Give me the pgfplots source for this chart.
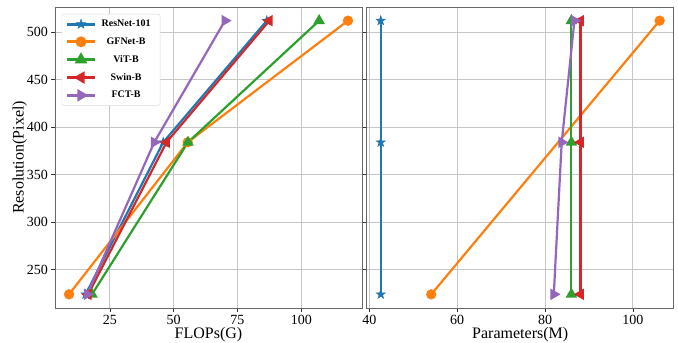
\documentclass[border=0pt]{standalone}
\usepackage{pgfplots}
\pgfplotsset{compat=1.18}
\usepackage{fontspec}
\setmainfont{Liberation Serif}
\definecolor{c1}{HTML}{1F77B4}
\definecolor{c2}{HTML}{FF7F0E}
\definecolor{c3}{HTML}{2CA02C}
\definecolor{c4}{HTML}{D62728}
\definecolor{c5}{HTML}{9467BD}
\pgfdeclareplotmark{fstar}{%
  \pgfpathmoveto{\pgfpointpolar{90}{1.3\pgfplotmarksize}}%
  \pgfpathlineto{\pgfpointpolar{126}{0.5\pgfplotmarksize}}%
  \pgfpathlineto{\pgfpointpolar{162}{1.3\pgfplotmarksize}}%
  \pgfpathlineto{\pgfpointpolar{198}{0.5\pgfplotmarksize}}%
  \pgfpathlineto{\pgfpointpolar{234}{1.3\pgfplotmarksize}}%
  \pgfpathlineto{\pgfpointpolar{270}{0.5\pgfplotmarksize}}%
  \pgfpathlineto{\pgfpointpolar{306}{1.3\pgfplotmarksize}}%
  \pgfpathlineto{\pgfpointpolar{342}{0.5\pgfplotmarksize}}%
  \pgfpathlineto{\pgfpointpolar{18}{1.3\pgfplotmarksize}}%
  \pgfpathlineto{\pgfpointpolar{54}{0.5\pgfplotmarksize}}%
  \pgfpathclose\pgfusepathqfillstroke}
\pgfplotsset{
  every axis/.style={
    scale only axis, width=307pt, height=301pt,
    grid=major, grid style={gray!45, line width=0.8pt},
    axis line style={gray!80!black, line width=0.8pt},
    tick align=outside, major tick length=3.5pt,
    tick style={black!80, line width=0.7pt},
    xtick pos=bottom, ytick pos=left,
    ymin=209.6, ymax=526.4,
    ytick={250,300,350,400,450,500},
    tick label style={font=\fontsize{14}{16}\selectfont},
    label style={font=\fontsize{16}{18}\selectfont},
    /pgf/number format/assume math mode=true,
    every axis plot/.append style={line width=2.2pt},
  },
  s1/.style={c1, mark=fstar, mark size=3.8pt, mark options={solid, line width=0.5pt}},
  s2/.style={c2, mark=*, mark size=4pt, mark options={solid}},
  s3/.style={c3, mark=triangle*, mark size=4.5pt, mark options={solid}},
  s4/.style={c4, mark=triangle*, mark size=4.5pt, mark options={solid, rotate=90}},
  s5/.style={c5, mark=triangle*, mark size=4.5pt, mark options={solid, rotate=-90}},
}
\begin{document}
\begin{tikzpicture}[x=1pt,y=1pt]
\useasboundingbox (0,0) rectangle (678,343);
\begin{axis}[at={(55pt,35pt)}, anchor=south west,
  xmin=3.5, xmax=123.8, xtick={25,50,75,100},
  xlabel={FLOPs(G)}, ylabel={Resolution(Pixel)},
  xlabel style={yshift=4pt}, ylabel style={yshift=-7pt},
  legend style={at={(0.022,0.977)}, anchor=north west, draw=gray!30, rounded corners=2pt,
    font=\bfseries\fontsize{10}{11}\selectfont, row sep=5.5pt, inner sep=4pt,
    cells={anchor=center, align=center, text width=56pt}},
  legend image code/.code={\draw[mark repeat=2,mark phase=2,line width=2.8pt,#1] plot coordinates {(0cm,0cm) (0.48cm,0cm) (0.96cm,0cm)};},
  legend cell align=center,
]
\addplot[s1] coordinates {(15.5,224) (45.9,384) (86.5,512)};
\addplot[s2] coordinates {(9.0,224) (55.5,384) (118.3,512)};
\addplot[s3] coordinates {(18.0,224) (55.6,384) (107.0,512)};
\addplot[s4] coordinates {(16.5,224) (47.2,384) (87.5,512)};
\addplot[s5] coordinates {(16.1,224) (42.4,384) (70.1,512)};
\legend{ResNet-101,GFNet-B,ViT-B,Swin-B,FCT-B}
\end{axis}
\begin{axis}[at={(366.7pt,35pt)}, anchor=south west,
  xmin=39.4, xmax=109.3, xtick={40,60,80,100},
  xlabel={Parameters(M)}, xlabel style={yshift=4pt},
  yticklabels={},
]
\addplot[s1] coordinates {(42.6,224) (42.6,384) (42.6,512)};
\addplot[s2] coordinates {(54.1,224) (106.1,512)};
\addplot[s3] coordinates {(86.0,224) (86.0,384) (86.0,512)};
\addplot[s4] coordinates {(88.1,224) (88.1,384) (88.1,512)};
\addplot[s5] coordinates {(82.0,224) (83.8,384) (86.7,512)};
\end{axis}
\end{tikzpicture}
\end{document}
